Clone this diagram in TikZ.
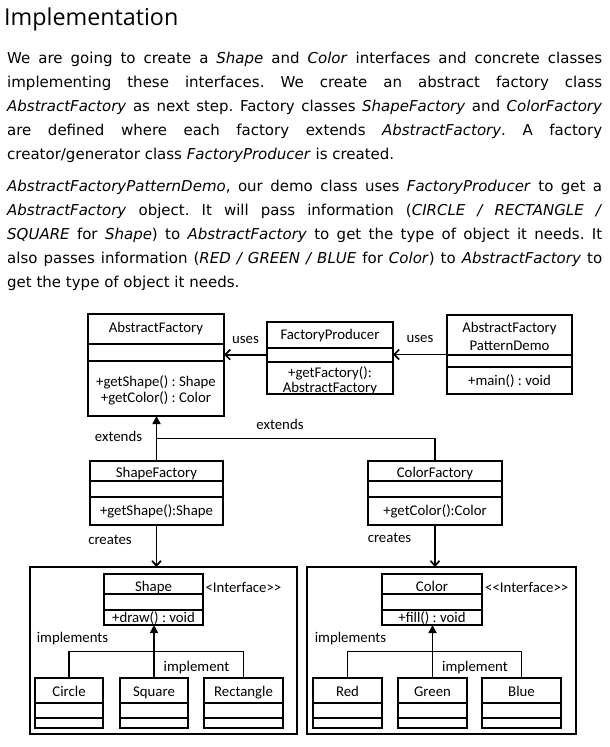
\documentclass[tikz,border=0pt]{standalone}
\usepackage{fontspec}
\setmainfont{DejaVu Sans}
\newfontfamily\umlfont{Carlito}
\newfontfamily\headfont{Open Sans}
\usetikzlibrary{arrows.meta, calc}
\tolerance=10000
\hbadness=10000
\frenchspacing
\newcommand\cdiv[2]{\draw[cline] ([yshift=-#2pt]#1.north west) -- ([yshift=-#2pt]#1.north east);}

\begin{document}
\begin{tikzpicture}[x=1pt, y=-1pt,
    para/.style={anchor=base west, inner sep=0pt, text width=595pt, align=justify,
                 font=\fontsize{15}{24}\selectfont},
    ttl/.style={anchor=base west, inner sep=0pt, font=\headfont\fontsize{23.3}{28}\selectfont},
    lbl/.style={anchor=base, inner sep=0pt, font=\umlfont\fontsize{14.8}{16}\selectfont},
    cls/.style={draw, line width=1.7pt, fill=white, anchor=north west,
                inner sep=0pt, outer sep=0pt},
    cline/.style={line width=1.7pt},
    ext/.style={-{Triangle[length=8pt, width=8pt]}, line width=1.7pt},
    uses/.style={-{Straight Barb[length=5pt, width=10pt]}, line width=1.7pt},
    crt/.style={-{Straight Barb[length=5pt, width=9pt]}, line width=1.7pt}]
  \useasboundingbox (0,0) rectangle (610,747);

  \node[ttl] (title) at (4,25) {Implementation};
  \node[para] (p1) at (7,63) {We are going to create a \emph{Shape} and \emph{Color} interfaces and concrete classes\linebreak
    implementing these interfaces. We create an abstract factory class\linebreak
    \emph{AbstractFactory} as next step. Factory classes \emph{ShapeFactory} and \emph{ColorFactory}\linebreak
    are defined where each factory extends \emph{AbstractFactory}. A factory\linebreak
    creator/generator class \emph{FactoryProducer} is created.};
  \node[para] (p2) at (7,191) {\emph{AbstractFactoryPatternDemo}, our demo class uses \emph{FactoryProducer} to get a\linebreak
    \emph{AbstractFactory} object. It will pass information (\emph{CIRCLE / RECTANGLE /}\linebreak
    \emph{SQUARE} for \emph{Shape}) to \emph{AbstractFactory} to get the type of object it needs. It\linebreak
    also passes information (\emph{RED / GREEN / BLUE} for \emph{Color}) to \emph{AbstractFactory} to\linebreak
    get the type of object it needs.};

  % factories
  \node[cls, minimum width=136pt, minimum height=102pt] (af) at (88,314) {};
  \cdiv{af}{30} \cdiv{af}{47}
  \node[lbl] (afn) at ([yshift=-18pt]af.north) {AbstractFactory};
  \node[lbl] (afm1) at ([yshift=-72pt]af.north) {+getShape() : Shape};
  \node[lbl] (afm2) at ([yshift=-88pt]af.north) {+getColor() : Color};

  \node[cls, minimum width=126pt, minimum height=72pt] (fp) at (267,322) {};
  \cdiv{fp}{26} \cdiv{fp}{40}
  \node[lbl] (fpn) at ([yshift=-17pt]fp.north) {FactoryProducer};
  \node[lbl] (fpm1) at ([yshift=-55pt]fp.north) {+getFactory():};
  \node[lbl] (fpm2) at ([yshift=-70pt]fp.north) {AbstractFactory};

  \node[cls, minimum width=125pt, minimum height=79pt] (demo) at (447,315) {};
  \cdiv{demo}{40} \cdiv{demo}{52}
  \node[lbl] (dmn1) at ([yshift=-17pt]demo.north) {AbstractFactory};
  \node[lbl] (dmn2) at ([yshift=-35pt]demo.north) {PatternDemo};
  \node[lbl] (dmm) at ([yshift=-70pt]demo.north) {+main() : void};

  \node[cls, minimum width=133pt, minimum height=64pt] (sf) at (90,461) {};
  \cdiv{sf}{20} \cdiv{sf}{36}
  \node[lbl] (sfn) at ([yshift=-16pt]sf.north) {ShapeFactory};
  \node[lbl] (sfm) at ([yshift=-54pt]sf.north) {+getShape():Shape};

  \node[cls, minimum width=134pt, minimum height=64pt] (cf) at (368,461) {};
  \cdiv{cf}{20} \cdiv{cf}{36}
  \node[lbl] (cfn) at ([yshift=-16pt]cf.north) {ColorFactory};
  \node[lbl] (cfm) at ([yshift=-54pt]cf.north) {+getColor():Color};

  \draw[uses] (fp.177) -- node[lbl, yshift=11pt] (u1) {uses} (fp.177 -| af.east);
  \draw[uses] (demo.west) -- node[lbl, yshift=12.5pt] (u2) {uses} (demo.west -| fp.east);
  \draw[ext] (sf.north) -- (sf.north |- af.south);
  \draw[cline] (cf.north) |- ($(af.south)!.5!(sf.north)$);
  \node[lbl] (e1) at (118.5,441) {extends};
  \node[lbl] (e2) at (280,429) {extends};

  % shape side
  \node[cls, minimum width=267pt, minimum height=167pt] (sg) at (30,567) {};
  \node[lbl, anchor=base west] (sif) at (198,592) {<{}<Interface>{}>};
  \node[cls, minimum width=99pt, minimum height=51pt] (shp) at (104,574) {};
  \cdiv{shp}{20} \cdiv{shp}{36}
  \node[lbl] (shn) at ([yshift=-17pt]shp.north) {Shape};
  \node[lbl] (shm) at ([yshift=-48pt]shp.north) {+draw() : void};
  \node[cls, minimum width=68pt, minimum height=50pt] (cir) at (35,678) {};
  \node[cls, minimum width=68pt, minimum height=50pt] (sq) at (120,678) {};
  \node[cls, minimum width=79pt, minimum height=50pt] (rect) at (204,678) {};
  \foreach \b in {cir, sq, rect} {\cdiv{\b}{25} \cdiv{\b}{40}}
  \node[lbl] (cirn) at ([yshift=-18pt]cir.north) {Circle};
  \node[lbl] (sqn) at ([yshift=-18pt]sq.north) {Square};
  \node[lbl] (rectn) at ([yshift=-18pt]rect.north) {Rectangle};
  \draw[crt] (sf.south) -- (sf.south |- sg.north);
  \draw[ext] (sq.north) -- (sq.north |- shp.south);
  \draw[cline] (cir.north) |- ($(shp.south)!.5!(sq.north)$) -| (rect.north);
  \node[lbl] (c1) at (110,544) {creates};
  \node[lbl] (i1) at (72.5,642) {implements};
  \node[lbl] (m1) at (196.5,671) {implement};

  % color side
  \node[cls, minimum width=269pt, minimum height=167pt] (cg) at (307,567) {};
  \node[lbl, anchor=base west] (cif) at (485,592) {<{}<Interface>{}>};
  \node[cls, minimum width=100pt, minimum height=51pt] (col) at (382,574) {};
  \cdiv{col}{20} \cdiv{col}{36}
  \node[lbl] (coln) at ([yshift=-17pt]col.north) {Color};
  \node[lbl] (colm) at ([yshift=-48pt]col.north) {+fill() : void};
  \node[cls, minimum width=69pt, minimum height=50pt] (red) at (313,678) {};
  \node[cls, minimum width=69pt, minimum height=50pt] (grn) at (398,678) {};
  \node[cls, minimum width=79pt, minimum height=50pt] (blu) at (482,678) {};
  \foreach \b in {red, grn, blu} {\cdiv{\b}{25} \cdiv{\b}{40}}
  \node[lbl] (redn) at ([yshift=-18pt]red.north) {Red};
  \node[lbl] (grnn) at ([yshift=-18pt]grn.north) {Green};
  \node[lbl] (blun) at ([yshift=-18pt]blu.north) {Blue};
  \draw[crt] (cf.south) -- (cf.south |- cg.north);
  \draw[ext] (grn.north) -- (grn.north |- col.south);
  \draw[cline] (red.north) |- ($(col.south)!.5!(grn.north)$) -| (blu.north);
  \node[lbl] (c2) at (389.5,542) {creates};
  \node[lbl] (i2) at (350.5,642) {implements};
  \node[lbl] (m2) at (475,671) {implement};
\end{tikzpicture}
\end{document}
